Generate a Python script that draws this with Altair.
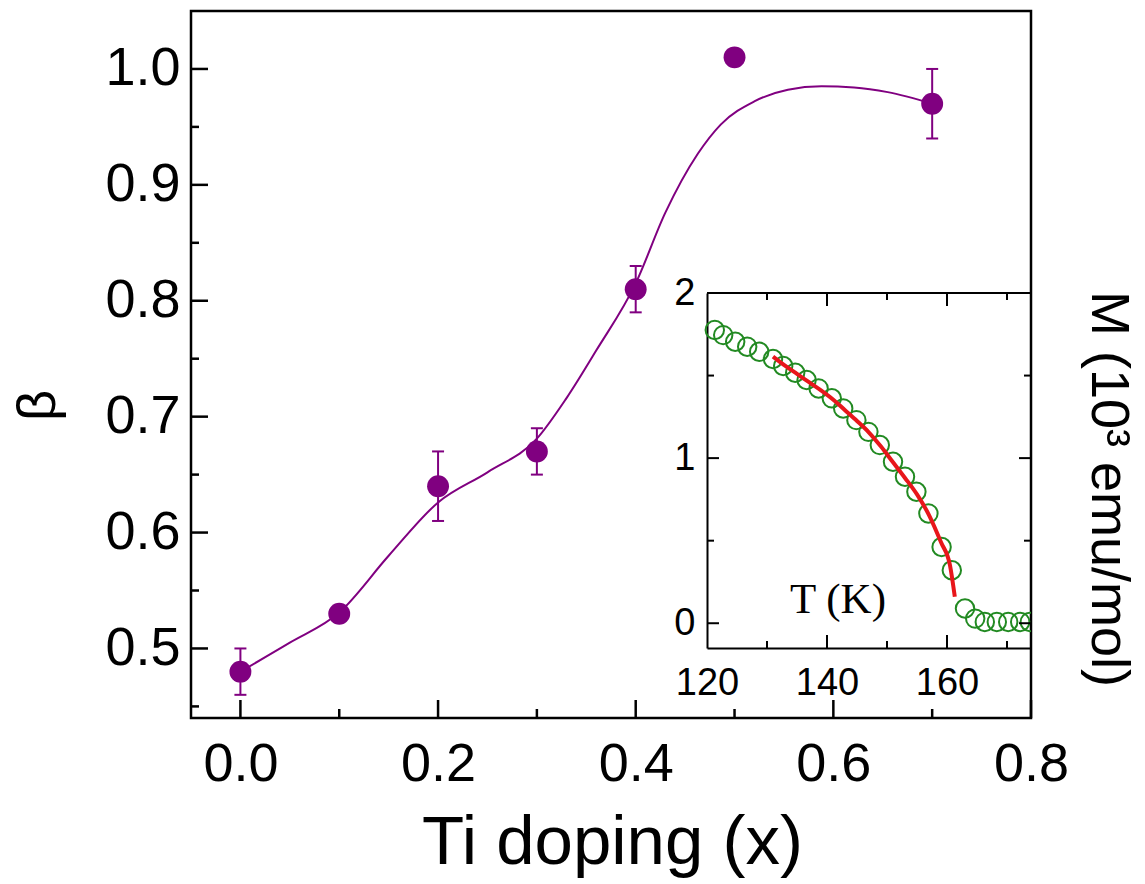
import altair as alt
import pandas as pd

# ---------------- data ----------------
ti_x = [0.0, 0.1, 0.2, 0.3, 0.4, 0.5, 0.7]
beta = [0.48, 0.53, 0.64, 0.67, 0.81, 1.01, 0.97]
beta_err = [0.02, 0.005, 0.03, 0.02, 0.02, 0.005, 0.03]

curve_x = [0.0, 0.05, 0.10, 0.15, 0.20, 0.25, 0.30, 0.33, 0.36, 0.40,
           0.43, 0.463, 0.486, 0.52, 0.554, 0.588, 0.621, 0.655, 0.70]
curve_b = [0.480, 0.505, 0.531, 0.580, 0.626, 0.652, 0.681, 0.716, 0.757, 0.815,
           0.876, 0.927, 0.952, 0.972, 0.982, 0.985, 0.984, 0.980, 0.970]

inset_T = [121.3, 122.7, 124.7, 126.7, 128.7, 131.0, 132.7, 134.7, 136.6, 138.6,
           140.8, 142.7, 144.9, 146.9, 148.8, 151.0, 153.0, 154.9, 156.9, 159.1,
           160.8, 163.0, 164.7, 166.3, 168.3, 170.2, 172.2, 173.8]
inset_M = [1.776, 1.745, 1.705, 1.675, 1.644, 1.600, 1.558, 1.517, 1.473, 1.422,
           1.362, 1.301, 1.230, 1.159, 1.079, 0.978, 0.887, 0.796, 0.665, 0.462,
           0.321, 0.089, 0.028, 0.008, 0.008, 0.008, 0.008, 0.008]

fit_T = [131.0, 133.0, 135.0, 137.0, 139.0, 141.0, 143.0, 145.0, 147.0, 149.0,
         151.0, 153.0, 155.0, 157.0, 159.0, 160.5, 161.3]
fit_M = [1.615, 1.56, 1.51, 1.46, 1.41, 1.355, 1.29, 1.225, 1.155, 1.07,
         0.975, 0.88, 0.78, 0.655, 0.49, 0.35, 0.16]

x_major = [0.0, 0.2, 0.4, 0.6, 0.8]
x_minor = [0.1, 0.3, 0.5, 0.7]
y_major = [0.5, 0.6, 0.7, 0.8, 0.9, 1.0]
y_minor = [0.45, 0.55, 0.65, 0.75, 0.85, 0.95]
T_labels = [120, 140, 160]
T_major = [140, 160]
T_minor = [130, 150, 170]
M_labels = [0, 1, 2]
M_major = [0, 1]
M_minor = [0.5, 1.5]

# ---------------- styling ----------------
W, H = 840, 707
IX0, IX1 = 516, 840      # inset x pixel range
IYB, IYT = 637, 282      # inset y pixel range (bottom, top)
PURPLE = "#800080"
GREEN = "#228a22"
RED = "#e8161b"
SANS = "Liberation Sans"

main_df = pd.DataFrame({
    "x": ti_x, "y": beta,
    "lo": [b - e for b, e in zip(beta, beta_err)],
    "hi": [b + e for b, e in zip(beta, beta_err)],
})
curve_df = pd.DataFrame({"x": curve_x, "y": curve_b})
inset_df = pd.DataFrame({"T": inset_T, "M": inset_M})
fit_df = pd.DataFrame({"T": fit_T, "M": fit_M})


def xs():
    return alt.Scale(domain=[-0.05, 0.8], nice=False, zero=False)


def ys():
    return alt.Scale(domain=[0.44, 1.05], nice=False, zero=False)


def txs():
    return alt.Scale(domain=[120, 174], range=[IX0, IX1], nice=False, zero=False)


def tys():
    return alt.Scale(domain=[-0.15, 2.0], range=[IYB, IYT], nice=False, zero=False)


def MX(field, axis=None):
    return alt.X(field, scale=xs(), axis=axis)


def MY(field, axis=None):
    return alt.Y(field, scale=ys(), axis=axis)


def IXc(field, axis=None):
    return alt.X(field, scale=txs(), axis=axis)


def IYc(field, axis=None):
    return alt.Y(field, scale=tys(), axis=axis)


x_axis = alt.Axis(orient="bottom", values=x_major, format=".1f", labelFontSize=54, labelPadding=19,
                  ticks=False, tickSize=0, domain=False, grid=False, labelFlush=False,
                  labelOverlap=False, title="Ti doping (x)", titleFontSize=69,
                  titleFontWeight="normal", titleX=421, titleY=90,
                  titleAlign="center", titleBaseline="top")
y_axis = alt.Axis(orient="left", values=y_major, format=".1f", labelFontSize=54, labelPadding=11,
                  ticks=False, tickSize=0, domain=False, grid=False, labelFlush=False,
                  labelOverlap=False, title="β", titleFontSize=54,
                  titleFontWeight="normal", titleAngle=270, titleX=-153, titleY=394,
                  titleAlign="center", titleBaseline="middle")

curve = alt.Chart(curve_df).mark_line(color=PURPLE, strokeWidth=2, interpolate="monotone").encode(
    x=MX("x:Q", x_axis), y=MY("y:Q", y_axis))
errs = alt.Chart(main_df).mark_rule(color=PURPLE, strokeWidth=2).encode(
    x=MX("x:Q"), y=MY("lo:Q"), y2="hi:Q")
cap_lo = alt.Chart(main_df).mark_tick(color=PURPLE, orient="horizontal", size=12, thickness=2, opacity=1).encode(
    x=MX("x:Q"), y=MY("lo:Q"))
cap_hi = alt.Chart(main_df).mark_tick(color=PURPLE, orient="horizontal", size=12, thickness=2, opacity=1).encode(
    x=MX("x:Q"), y=MY("hi:Q"))
points = alt.Chart(main_df).mark_circle(size=480, color=PURPLE, opacity=1).encode(
    x=MX("x:Q"), y=MY("y:Q"))


def xticks(vals, length):
    return alt.Chart(pd.DataFrame({"x": vals})).mark_rule(color="black", strokeWidth=2.5).encode(
        x=MX("x:Q"), y=alt.value(H), y2=alt.value(H - length))


def yticks(vals, length):
    return alt.Chart(pd.DataFrame({"y": vals})).mark_rule(color="black", strokeWidth=2.5).encode(
        y=MY("y:Q"), x=alt.value(0), x2=alt.value(length))


# ---------------- inset ----------------
tx_axis = alt.Axis(orient="bottom", offset=-(H - IYB), values=T_labels, format="d",
                   labelFontSize=38, labelPadding=16, ticks=False, tickSize=0,
                   domain=True, domainColor="black", domainWidth=2, grid=False,
                   labelFlush=False, labelOverlap=False, title=None)
ty_axis = alt.Axis(orient="left", offset=-IX0, values=M_labels, format="d",
                   labelFontSize=38, labelPadding=12, ticks=False, tickSize=0,
                   domain=True, domainColor="black", domainWidth=2, grid=False,
                   labelFlush=False, labelOverlap=False, title=None)

circles = alt.Chart(inset_df).mark_point(shape="circle", filled=False, color=GREEN,
                                         strokeWidth=2, size=340, opacity=1, clip=True).encode(
    x=IXc("T:Q", tx_axis), y=IYc("M:Q", ty_axis))
fit = alt.Chart(fit_df).mark_line(color=RED, strokeWidth=4, interpolate="monotone").encode(
    x=IXc("T:Q"), y=IYc("M:Q"))
top_border = alt.Chart(pd.DataFrame({"T": [120], "T2": [174], "M": [2.0]})).mark_rule(
    color="black", strokeWidth=2).encode(x=IXc("T:Q"), x2="T2:Q", y=IYc("M:Q"))


def tb_ticks(vals, length):
    d = pd.DataFrame({"T": vals})
    bot = alt.Chart(d).mark_rule(color="black", strokeWidth=2).encode(
        x=IXc("T:Q"), y=alt.value(IYB), y2=alt.value(IYB - length))
    top = alt.Chart(d).mark_rule(color="black", strokeWidth=2).encode(
        x=IXc("T:Q"), y=alt.value(IYT), y2=alt.value(IYT + length))
    return [bot, top]


def lr_ticks(vals, length):
    d = pd.DataFrame({"M": vals})
    left = alt.Chart(d).mark_rule(color="black", strokeWidth=2).encode(
        y=IYc("M:Q"), x=alt.value(IX0), x2=alt.value(IX0 + length))
    right = alt.Chart(d).mark_rule(color="black", strokeWidth=2).encode(
        y=IYc("M:Q"), x=alt.value(IX1), x2=alt.value(IX1 - length))
    return [left, right]


tk_text = alt.Chart(pd.DataFrame({"t": ["T (K)"]})).mark_text(
    font="Liberation Serif", fontSize=43, align="center", baseline="alphabetic", color="black").encode(
    text="t:N", x=alt.value(647), y=alt.value(602))

m_title = alt.Chart(pd.DataFrame({"t": ["M (10³ emu/mol)"]})).mark_text(
    font=SANS, fontSize=54, align="center", baseline="middle", angle=90, color="black").encode(
    text="t:N", x=alt.value(917), y=alt.value(478))

chart = alt.layer(
    curve, errs, cap_lo, cap_hi, points,
    xticks(x_major, 18), xticks(x_minor, 9), yticks(y_major, 17), yticks(y_minor, 8),
    circles, fit, top_border,
    *tb_ticks(T_major, 13), *tb_ticks(T_minor, 7),
    *lr_ticks(M_major, 12), *lr_ticks(M_minor, 7),
    tk_text, m_title,
).resolve_scale(
    x="independent", y="independent"
).properties(
    width=W, height=H,
    autosize=alt.AutoSizeParams(type="none"),
    padding={"left": 191, "top": 11, "right": 114, "bottom": 166},
    background="white",
).configure_view(
    stroke="black", strokeWidth=2.5
).configure_axis(
    labelFont=SANS, titleFont=SANS, labelColor="black", titleColor="black"
)

chart.save("out.html", embed_options={"renderer": "svg", "actions": False})
